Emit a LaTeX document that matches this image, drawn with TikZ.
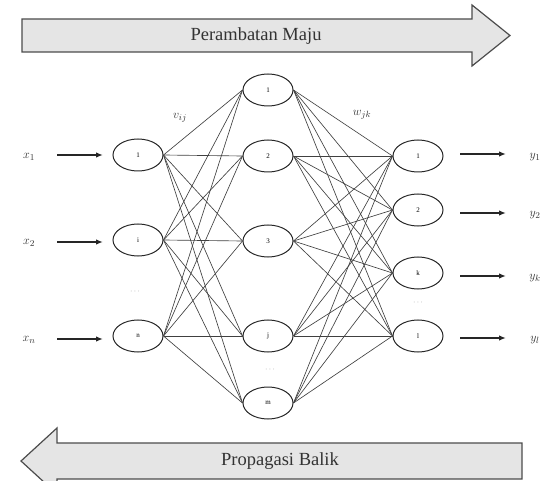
\documentclass[tikz,border=0pt]{standalone}
\usepackage{fontspec}
\setmainfont{Liberation Serif}
\usetikzlibrary{shapes.geometric,arrows.meta}
\begin{document}
\begin{tikzpicture}[x=1pt,y=-1pt,
  neuron/.style={ellipse,draw=black!85,line width=1pt,minimum width=50pt,minimum height=32pt,inner sep=0pt,font=\fontsize{7}{7}\selectfont},
  link/.style={draw=black!75,line width=0.65pt},
  io/.style={-{Latex[length=7pt,width=5.5pt]},line width=1.5pt,draw=black!85},
  bigarrow/.style={draw=black!70,fill=black!10,line width=1.2pt,line join=miter},
  bigtext/.style={font=\fontsize{18.5}{18.5}\selectfont,text=black!80},
  lbl/.style={font=\fontsize{13}{13}\selectfont,text=black!80},
  dotsn/.style={text=black!45,font=\fontsize{8}{8}\selectfont}
]
\useasboundingbox (0,0) rectangle (549,481);
\clip (0,0) rectangle (549,481);

% big arrows
\draw[bigarrow] (22,19) -- (472,19) -- (472,5) -- (510,35.5) -- (472,66) -- (472,52) -- (22,52) -- cycle;
\node[bigtext] (fwd) at (256,36) {Perambatan Maju};
\draw[bigarrow] (522,443) -- (57,443) -- (57,428) -- (21,461) -- (57,494) -- (57,479) -- (522,479) -- cycle;
\node[bigtext] (bwd) at (280,461) {Propagasi Balik};

% neurons
\node[neuron] (i1) at (138,155) {1};
\node[neuron] (i2) at (138,240) {i};
\node[neuron] (i3) at (138,336) {n};
\node[neuron] (h1) at (268,90) {1};
\node[neuron] (h2) at (268,156) {2};
\node[neuron] (h3) at (268,241) {3};
\node[neuron] (h4) at (268,336) {j};
\node[neuron] (h5) at (268,403) {m};
\node[neuron] (o1) at (418,156) {1};
\node[neuron] (o2) at (418,210) {2};
\node[neuron] (o3) at (418,273) {k};
\node[neuron] (o4) at (418,336) {l};

% links
\foreach \a in {i1,i2,i3}
  \foreach \b in {h1,h2,h3,h4,h5}
    \draw[link] (\a.east) -- (\b.west);
\foreach \a in {h1,h2,h3,h4,h5}
  \foreach \b in {o1,o2,o3,o4}
    \draw[link] (\a.east) -- (\b.west);

% weight labels
\node[lbl] (v) at (180,118) {$v_{ij}$};
\node[lbl] (w) at (362,115) {$w_{jk}$};

% inputs
\node[lbl] (x1) at (29,157) {$x_1$};
\node[lbl] (x2) at (29,243) {$x_2$};
\node[lbl] (x3) at (29,340) {$x_n$};
\coordinate (xs1) at (57,155); \coordinate (xe1) at (103,155);
\coordinate (xs2) at (57,242); \coordinate (xe2) at (103,242);
\coordinate (xs3) at (57,339); \coordinate (xe3) at (103,339);
\draw[io] (xs1) -- (xe1);
\draw[io] (xs2) -- (xe2);
\draw[io] (xs3) -- (xe3);

% outputs
\coordinate (ys1) at (460,154); \coordinate (ye1) at (506,154);
\coordinate (ys2) at (460,213); \coordinate (ye2) at (506,213);
\coordinate (ys3) at (460,276); \coordinate (ye3) at (506,276);
\coordinate (ys4) at (460,338); \coordinate (ye4) at (506,338);
\draw[io] (ys1) -- (ye1);
\draw[io] (ys2) -- (ye2);
\draw[io] (ys3) -- (ye3);
\draw[io] (ys4) -- (ye4);
\node[lbl] (y1) at (535,157) {$y_1$};
\node[lbl] (y2) at (535,215) {$y_2$};
\node[lbl] (y3) at (535,278) {$y_k$};
\node[lbl] (y4) at (535,340) {$y_l$};

% dots
\node[dotsn] (d1) at (135,292) {$\cdots$};
\node[dotsn] (d2) at (270,370) {$\cdots$};
\node[dotsn] (d3) at (418,303) {$\cdots$};
\end{tikzpicture}
\end{document}
